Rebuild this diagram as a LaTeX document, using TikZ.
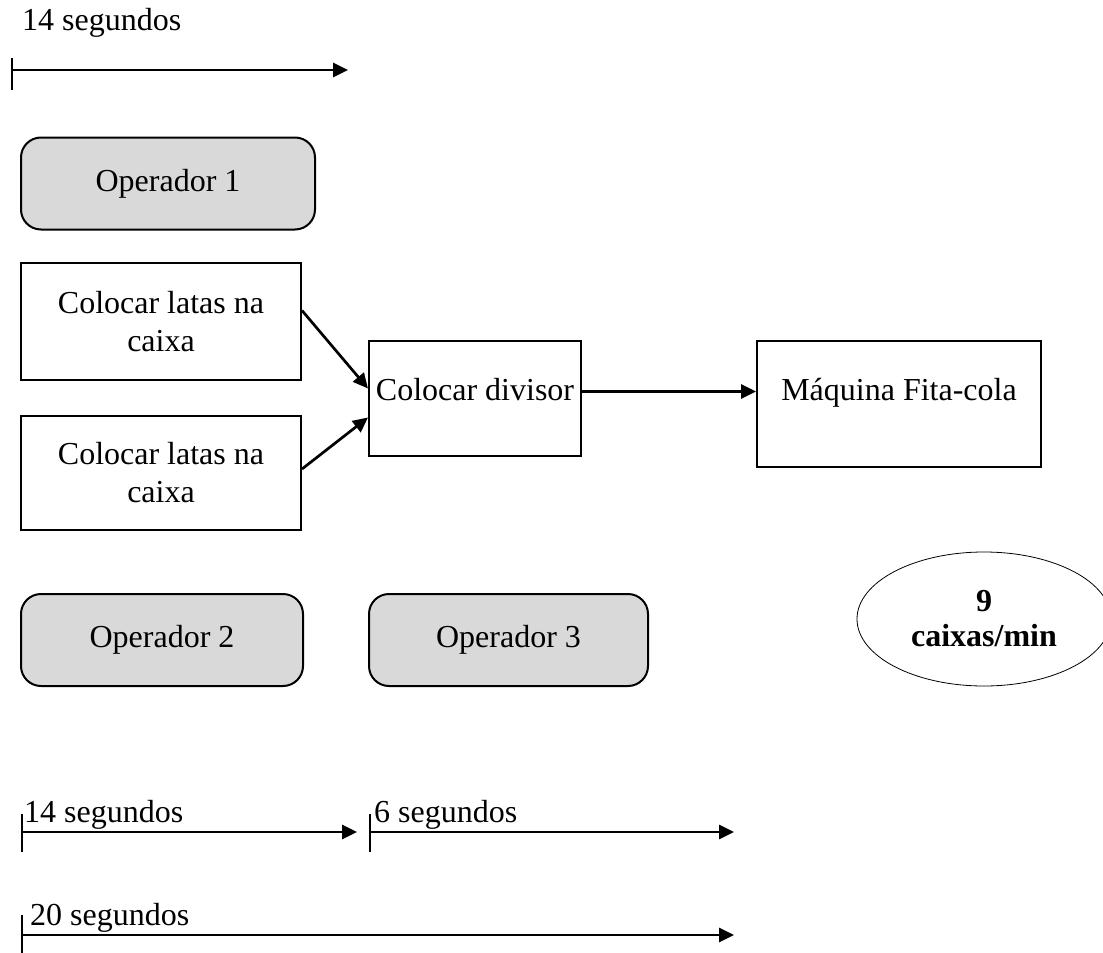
\documentclass[tikz,border=0pt]{standalone}
\usepackage{fontspec}
\setmainfont{Liberation Serif}
\usetikzlibrary{arrows.meta,shapes.geometric,calc}
\definecolor{opgray}{RGB}{217,217,217}
\begin{document}
\begin{tikzpicture}[x=1pt,y=-1pt,
  every node/.style={font=\fontsize{32}{38}\selectfont},
  opbox/.style={draw,line width=2pt,rounded corners=20pt,fill=opgray,minimum width=#1,minimum height=92pt,inner sep=0pt},
  taskbox/.style={draw,line width=2pt,minimum width=280pt,minimum height=117pt,align=center,inner sep=0pt},
  topbox/.style={draw,line width=2pt,inner sep=0pt,text height=59pt},
  arr/.style={line width=2.7pt,-{Triangle[length=15pt,width=14pt]}},
  tline/.style={line width=2.7pt,-{Triangle[length=15pt,width=14pt]}},
  tick/.style={line width=1.8pt},
  lbl/.style={anchor=base west,inner sep=0pt}]
\useasboundingbox (0,0) rectangle (1103,953);
\fill[white] (0,0) rectangle (1103,953);

% top timeline
\node[lbl] (t1) at (22,30) {14 segundos};
\coordinate (a1s) at (12,70);
\coordinate (a1e) at (348,70);
\draw[tick] (12,58) -- (12,90);
\draw[tline] (a1s) -- (a1e);

% operators
\node[opbox=294pt] (op1) at (168,183.5) {Operador 1};
\node[opbox=282pt] (op2) at (162,640) {Operador 2};
\node[opbox=279pt] (op3) at (508.5,640) {Operador 3};

% tasks
\node[taskbox] (l1) at (161,321.5) {Colocar latas na\\caixa};
\node[taskbox,minimum height=114pt] (l2) at (161,473) {Colocar latas na\\caixa};
\node[topbox,minimum width=212pt,text depth=56pt] (div) at (475,398.5) {Colocar divisor};
\node[topbox,minimum width=284pt,text depth=67pt] (maq) at (899,404) {Máquina Fita-cola};

\draw[arr] ([yshift=11pt]l1.east) -- ([yshift=10pt]div.west);
\draw[arr] ([yshift=4pt]l2.east) -- ([yshift=-19pt]div.west);
\draw[arr] ([yshift=7pt]div.east) -- ([yshift=7pt]div.east -| maq.west);

% rate ellipse
\node[draw,ellipse,line width=0.8pt,minimum width=254pt,minimum height=134pt,align=center,inner sep=0pt,font=\fontsize{32}{35}\selectfont] (rate) at (984,619) {\textbf{9}\\\textbf{caixas/min}};

% bottom timelines
\node[lbl] (t2) at (24,822) {14 segundos};
\draw[tick] (22,814) -- (22,852);
\coordinate (a2s) at (22,832);
\coordinate (a2e) at (357,832);
\draw[tline] (a2s) -- (a2e);

\node[lbl] (t3) at (374,822) {6 segundos};
\draw[tick] (370,814) -- (370,852);
\coordinate (a3s) at (370,832);
\coordinate (a3e) at (734,832);
\draw[tline] (a3s) -- (a3e);

\node[lbl] (t4) at (30,925) {20 segundos};
\draw[tick] (22,915) -- (22,953);
\coordinate (a4s) at (22,935);
\coordinate (a4e) at (734,935);
\draw[tline] (a4s) -- (a4e);
\end{tikzpicture}
\end{document}
